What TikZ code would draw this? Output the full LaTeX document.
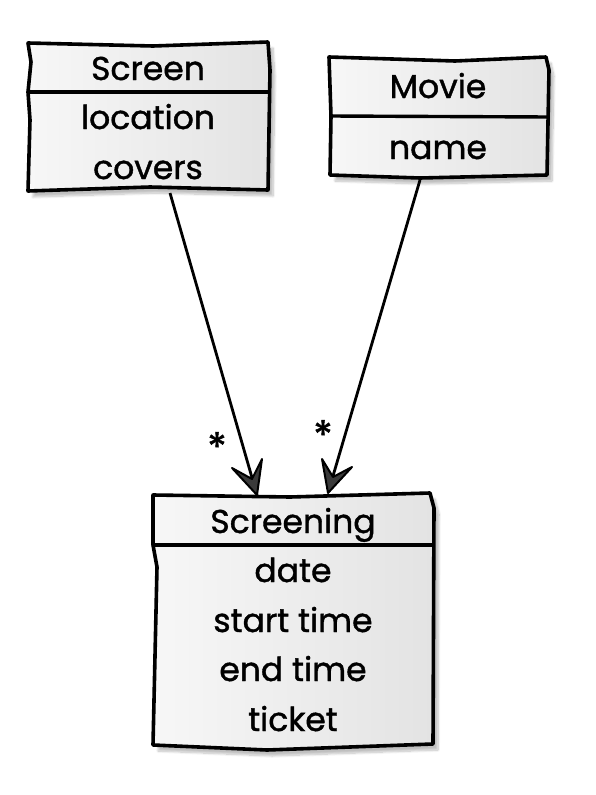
\documentclass[tikz,border=0pt]{standalone}
\usepackage{fontspec}
\setmainfont{Poppins}[FakeBold=1.2]
\usetikzlibrary{shadows.blur}
\definecolor{boxlight}{HTML}{F7F7F7}
\definecolor{boxdark}{HTML}{E3E3E3}
\definecolor{tipgrey}{HTML}{3A3A3A}
\tikzset{
  classbox/.style={draw=black, line width=3.6pt, line join=round,
    left color=boxlight, right color=boxdark,
    blur shadow={shadow xshift=5pt, shadow yshift=-6pt, shadow opacity=25, shadow blur steps=10}},
  headline/.style={line width=3.4pt},
  classtext/.style={anchor=base, inner sep=0pt, font=\fontsize{33}{33}\selectfont},
  assoc/.style={line width=2.8pt, shorten >=12pt},
  assochead/.style={draw=black, fill=tipgrey, line width=2pt, line join=round},
  mult/.style={anchor=north, inner sep=0pt, font=\fontsize{40}{40}\selectfont}
}
\begin{document}
\begin{tikzpicture}[x=1pt, y=-1pt]
  \useasboundingbox (0,0) rectangle (596,795);
  % Screen
  \path[classbox] (28,43) -- (153,46) -- (268,42) -- (270,70) -- (268,190)
    -- (150,187) -- (28,191) -- (30,120) -- (28,92) -- (31,62) -- cycle;
  \draw[headline] (28,92) -- (269,92);
  \node[classtext] (scrname) at (148,80) {Screen};
  \node[classtext] (scrloc) at (148,129) {location};
  \node[classtext] (scrcov) at (148,179) {covers};
  % Movie
  \path[classbox] (329,57) -- (455,61) -- (546,57) -- (549,70) -- (547,175)
    -- (420,178) -- (330,175) -- (331,116) -- cycle;
  \draw[headline] (330,116) -- (549,117);
  \node[classtext] (movname) at (438,98) {Movie};
  \node[classtext] (movattr) at (438,159) {name};
  % Screening
  \path[classbox] (153,495) -- (290,497) -- (430,493) -- (434,508) -- (433,744)
    -- (267,750) -- (153,745) -- (157,567) -- (153,545) -- cycle;
  \draw[headline] (153,545) -- (432,545);
  \node[classtext] (scgname) at (293,533) {Screening};
  \node[classtext] (scgdate) at (293,582) {date};
  \node[classtext] (scgstart) at (293,632) {start time};
  \node[classtext] (scgend) at (293,681) {end time};
  \node[classtext] (scgticket) at (293,731) {ticket};
  % associations
  \coordinate (scrout) at (170,193);
  \coordinate (movout) at (420,180);
  \coordinate (scgin1) at (257,495);
  \coordinate (scgin2) at (328,493);
  \draw[assoc] (scrout) -- (scgin1);
  \draw[assoc] (movout) -- (scgin2);
  \filldraw[assochead] (scgin1) -- ++(-25,-27) -- ++(20,11) -- ++(10,-20) -- cycle;
  \filldraw[assochead] (scgin2) -- ++(-6,-34) -- ++(11,18) -- ++(19,-10) -- cycle;
  \node[mult] (mult1) at (217,432) {*};
  \node[mult] (mult2) at (323,420) {*};
\end{tikzpicture}
\end{document}
